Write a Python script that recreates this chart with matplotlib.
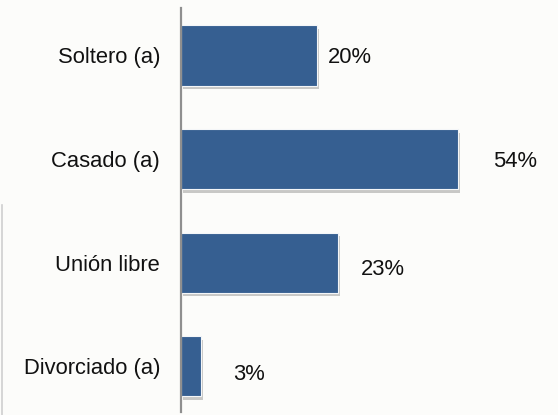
import matplotlib.pyplot as plt
import matplotlib.patheffects as pe
from matplotlib.lines import Line2D

# data
categorias = ['Soltero (a)', 'Casado (a)', 'Unión libre', 'Divorciado (a)']
etiquetas = ['20%', '54%', '23%', '3%']
largo_barras = [26.5, 54.0, 30.6, 3.9]   # longitud de barra

# desplazamiento de cada etiqueta (px a la derecha, px hacia abajo)
desplaz_px = [(11, 2.5), (35, 2.5), (23, 7), (32, 8)]

plt.rcParams['font.family'] = ['Liberation Sans', 'DejaVu Sans']

fondo = '#fcfcfa'
fig = plt.figure(figsize=(5.58, 4.15), dpi=100, facecolor=fondo)
ax = fig.add_axes([181 / 558, 3 / 415, 377 / 558, 404 / 415])
ax.set_facecolor(fondo)

posiciones = list(range(len(categorias)))
barras = ax.barh(posiciones, largo_barras, height=0.58, color='#365f91',
                 edgecolor='#f4f6f8', linewidth=0.8)
for b in barras:
    b.set_path_effects([pe.SimplePatchShadow(offset=(1.5, -2.5), shadow_rgbFace='#7a7a7a', alpha=0.4),
                        pe.Normal()])

for i, (largo, txt) in enumerate(zip(largo_barras, etiquetas)):
    dx, dy = desplaz_px[i]
    ax.annotate(txt, (largo, i), xytext=(dx * 0.72, -dy * 0.72), textcoords='offset points',
                ha='left', va='center', fontsize=15.8, color='#111111')

ax.set_xlim(0, 73.5)
ax.set_ylim(3.44, -0.458)
ax.set_yticks(posiciones)
ax.set_yticklabels(categorias, fontsize=15.8, color='#111111')
ax.tick_params(axis='y', length=0, pad=15)
ax.set_xticks([])

for lado in ['top', 'right', 'bottom']:
    ax.spines[lado].set_visible(False)
ax.spines['left'].set_color('#8f8f8f')
ax.spines['left'].set_linewidth(1.6)

# línea tenue en el borde izquierdo
fig.add_artist(Line2D([2 / 558, 2 / 558], [0, 210 / 415], color='#cfcfcf', linewidth=1.2))

fig.savefig('out.png', dpi=100, facecolor=fondo)
